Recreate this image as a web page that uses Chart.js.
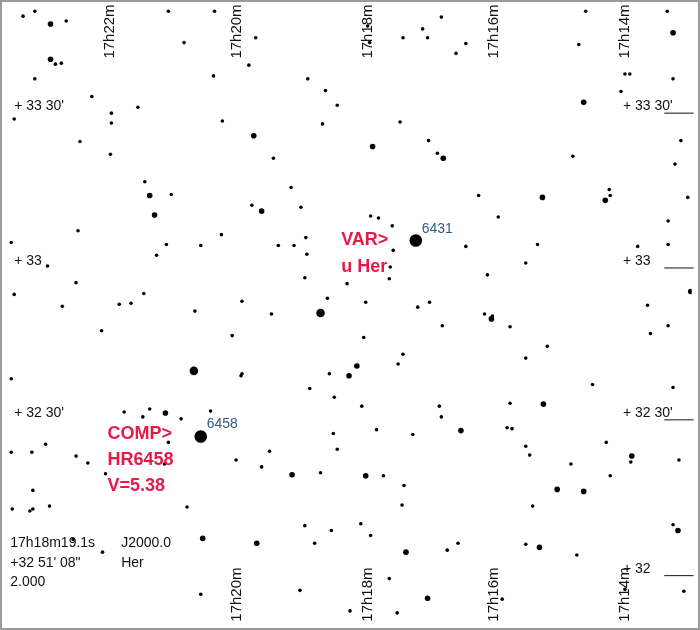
<!DOCTYPE html>
<html>
<head>
<meta charset="utf-8">
<script src="https://cdn.jsdelivr.net/npm/chart.js@4"></script>
<style>
  body { margin: 0; background: #fff; }
  #wrap { width: 700px; height: 630px; position: relative; box-sizing: border-box; border: 2px solid #9a9a9a; }
  #chart { display: block; }
</style>
</head>
<body>
<div id="wrap"><canvas id="chart" width="696" height="626"></canvas></div>
<script>
// estrelas lidas da carta (x, y no plano da carta 0..700 / 0..630)
const starsFaint = [
  [15,8],[27,3],[59,13],[48,57],[54,56],[27,72],[85,90],[105,107],[105,117],[132,101],[73,136],[104,149],
  [139,177],[166,190],[71,227],[161,241],[151,252],[196,242],[217,231],[179,35],[209,69],[163,3],[210,3],
  [252,30],[245,58],[218,115],[270,153],[305,72],[323,84],[335,99],[320,118],[288,183],[248,201],[298,203],
  [275,242],[291,242],[303,234],[304,251],[302,275],[345,281],[325,296],[268,312],[238,299],[190,309],
  [138,291],[125,301],[113,302],[69,280],[55,304],[6,292],[40,263],[3,239],[6,113],
  [441,9],[402,30],[422,21],[427,30],[466,36],[456,46],[366,18],[368,35],[588,3],[671,3],[581,37],
  [628,67],[633,67],[624,85],[677,72],[399,116],[428,135],[437,148],[575,151],[685,135],[679,159],
  [479,191],[612,185],[613,191],[692,193],[499,213],[369,212],[377,214],[391,222],[392,247],[466,243],
  [539,241],[527,260],[389,264],[388,276],[488,272],[672,217],[672,241],[641,243],[651,303],[364,300],
  [429,300],[417,305],[485,312],[493,314],
  [95,329],[228,334],[237,375],[238,373],[327,373],[3,378],[307,388],[332,397],[118,412],[137,417],
  [144,409],[176,419],[206,411],[163,443],[3,453],[24,453],[38,445],[69,457],[81,464],[99,475],[159,465],
  [232,461],[266,452],[258,468],[331,434],[335,450],[318,474],[25,492],[4,511],[22,513],[25,511],[42,508],
  [182,509],[302,528],[312,546],[329,533],[66,542],[96,555],[196,598],[297,594],[348,615],
  [442,324],[511,325],[362,336],[402,353],[397,363],[527,357],[549,345],[654,332],[672,324],[595,384],
  [677,387],[360,406],[439,406],[441,417],[511,403],[375,430],[412,435],[508,428],[513,429],[527,447],
  [531,456],[573,465],[609,443],[634,463],[683,461],[382,477],[403,487],[401,507],[613,477],
  [534,508],[359,526],[369,538],[447,553],[458,546],[527,547],[579,558],[677,527],[388,582],[396,617],
  [503,603],[628,593],[688,595]
];
const starsMedium = [
  [43,16],[43,52],[144,191],[149,211],[258,207],[677,25],[586,96],[371,141],[443,153],[544,193],[608,196],
  [695,289],[160,413],[347,375],[289,476],[198,541],[253,546],[492,317],[355,365],[545,404],[461,431],
  [364,477],[559,491],[586,493],[405,555],[541,550],[682,533],[427,602],[250,130],[635,457]
];
const starsBright = [[318,311],[189,370]];
const starsVar = [[415,237],[196,437]];

const raLabels = ["17h22m", "17h20m", "17h18m", "17h16m", "17h14m"];
const raTopX = [103, 233, 366, 495, 628];
const raBottom = ["17h20m", "17h18m", "17h16m", "17h14m"];
const raBottomX = [233, 366, 495, 628];
const decLeft = [["+ 33 30'", 100], ["+ 33", 258], ["+ 32 30'", 413]];
const decRight = [["+ 33 30'", 100], ["+ 33", 258], ["+ 32 30'", 413], ["+ 32", 572]];
const infoLines = ["17h18m19.1s", "+32 51' 08\"", "2.000"];
const infoRight = ["J2000.0", "Her"];
const varLabel = ["VAR>", "u Her"];
const compLabel = ["COMP>", "HR6458", "V=5.38"];
const hrNumbers = [["6431", 421, 225], ["6458", 202, 424]];

const toPts = arr => arr.map(p => ({ x: p[0], y: p[1] }));

// textos da carta, posicionados pelas escalas
const chartText = {
  id: "chartText",
  afterDatasetsDraw(chart) {
    const { ctx, scales: { x, y } } = chart;
    const px = v => x.getPixelForValue(v);
    const py = v => y.getPixelForValue(v);
    ctx.save();
    ctx.fillStyle = "#111";
    ctx.font = "15px 'Liberation Sans', Arial, sans-serif";
    ctx.textBaseline = "middle";

    const vert = (txt, xv, yv, align) => {
      ctx.save();
      ctx.translate(px(xv), py(yv));
      ctx.rotate(-Math.PI / 2);
      ctx.textAlign = align;
      ctx.fillText(txt, 0, 0);
      ctx.restore();
    };
    raLabels.forEach((t, i) => vert(t, raTopX[i], -4, "right"));
    raBottom.forEach((t, i) => vert(t, raBottomX[i], 626, "left"));

    ctx.font = "14px 'Liberation Sans', Arial, sans-serif";
    ctx.textAlign = "left";
    decLeft.forEach(d => ctx.fillText(d[0], px(6), py(d[1])));
    decRight.forEach(d => ctx.fillText(d[0], px(626), py(d[1])));
    ctx.strokeStyle = "#111";
    ctx.lineWidth = 1;
    decRight.forEach(d => {
      ctx.beginPath(); ctx.moveTo(px(668), py(d[1] + 7)); ctx.lineTo(px(698), py(d[1] + 7)); ctx.stroke();
    });

    infoLines.forEach((t, i) => ctx.fillText(t, px(2), py(546 + i * 20)));
    infoRight.forEach((t, i) => ctx.fillText(t, px(115), py(546 + i * 20)));

    ctx.fillStyle = "#2d5d8f";
    hrNumbers.forEach(h => ctx.fillText(h[0], px(h[1]), py(h[2])));

    ctx.fillStyle = "#e8194a";
    ctx.font = "bold 18px 'Liberation Sans', Arial, sans-serif";
    varLabel.forEach((t, i) => ctx.fillText(t, px(339), py(237 + i * 27)));
    compLabel.forEach((t, i) => ctx.fillText(t, px(101), py(434 + i * 27)));
    ctx.restore();
  }
};

const ds = (data, r) => ({
  data: toPts(data), pointRadius: r, pointHoverRadius: r,
  backgroundColor: "#000", borderColor: "#000", borderWidth: 0, showLine: false
});

new Chart(document.getElementById("chart"), {
  type: "scatter",
  data: { datasets: [ds(starsFaint, 1.8), ds(starsMedium, 2.8), ds(starsBright, 4.3), ds(starsVar, 6.3)] },
  options: {
    responsive: false,
    animation: false,
    layout: { padding: 0 },
    plugins: { legend: { display: false }, tooltip: { enabled: false } },
    scales: {
      x: { type: "linear", min: 0, max: 696, display: false },
      y: { type: "linear", min: 0, max: 626, reverse: true, display: false }
    }
  },
  plugins: [chartText]
});
</script>
</body>
</html>
